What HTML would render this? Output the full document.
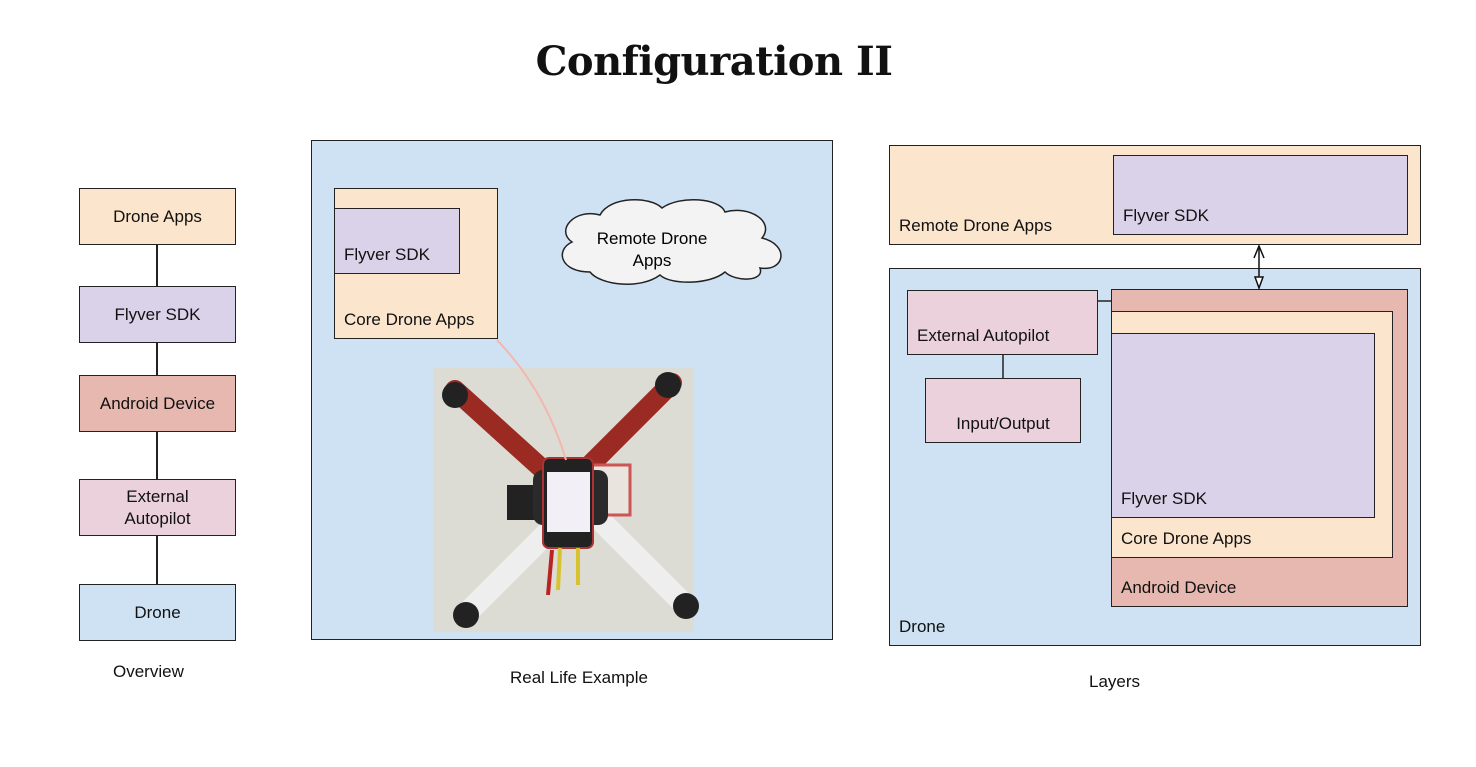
<!DOCTYPE html>
<html><head><style>
body{margin:0;width:1476px;height:767px;background:#fff;position:relative;overflow:hidden;font-family:"Liberation Sans",Arial,sans-serif;color:#111}
.b{position:absolute;border:1.5px solid #222;box-sizing:border-box;font-size:17px}
.c{display:flex;align-items:center;justify-content:center;text-align:center;line-height:22px}
.l{position:absolute;left:9px;bottom:8px;white-space:nowrap}
.pe{background:#fce5cd}.pu{background:#d9d2e9}.rd{background:#e6b8af}.pk{background:#ead1dc}.bl{background:#cfe2f3}
.v{position:absolute;width:1.5px;background:#222}
.t{position:absolute;font-size:17px;white-space:nowrap}
</style></head><body>
<div style="position:absolute;left:0;width:1428px;top:38px;text-align:center;font-family:'DejaVu Serif',serif;font-weight:bold;font-size:40px;letter-spacing:-0.5px">Configuration II</div>

<!-- overview -->
<div class="v" style="left:156px;top:244px;height:140px"></div>
<div class="v" style="left:156px;top:430px;height:160px"></div>
<div class="b c pe" style="left:79px;top:188px;width:157px;height:57px">Drone Apps</div>
<div class="b c pu" style="left:79px;top:286px;width:157px;height:57px">Flyver SDK</div>
<div class="b c rd" style="left:79px;top:375px;width:157px;height:57px">Android Device</div>
<div class="b c pk" style="left:79px;top:479px;width:157px;height:57px">External<br>Autopilot</div>
<div class="b c bl" style="left:79px;top:584px;width:157px;height:57px">Drone</div>
<div class="t" style="left:113px;top:662px">Overview</div>

<!-- real life -->
<div class="b bl" style="left:311px;top:140px;width:522px;height:500px"></div>
<div class="b pe" style="left:334px;top:188px;width:164px;height:151px"><span class="l">Core Drone Apps</span></div>
<div class="b pu" style="left:334px;top:208px;width:126px;height:66px"><span class="l">Flyver SDK</span></div>
<svg style="position:absolute;left:0;top:0" width="1476" height="767">
<path d="M590 272 C560 272 555 250 572 242 C555 230 575 208 600 215 C610 196 650 196 662 208 C680 195 720 198 725 212 C750 205 775 222 762 238 C790 245 785 272 760 268 C765 282 735 282 725 272 C710 285 670 285 660 275 C640 290 600 285 590 272 Z" fill="#f3f3f3" stroke="#222" stroke-width="1.5"/>
<text x="652" y="244" font-size="17" text-anchor="middle" font-family="Liberation Sans">Remote Drone</text>
<text x="652" y="266" font-size="17" text-anchor="middle" font-family="Liberation Sans">Apps</text>
<rect x="433" y="368" width="261" height="264" fill="#dcdcd4"/>
<g stroke-linecap="round">
<line x1="455" y1="390" x2="560" y2="485" stroke="#9a2a22" stroke-width="20"/>
<line x1="672" y1="383" x2="585" y2="470" stroke="#9a2a22" stroke-width="20"/>
<line x1="465" y1="615" x2="555" y2="525" stroke="#eeeeee" stroke-width="22"/>
<line x1="685" y1="605" x2="600" y2="520" stroke="#eeeeee" stroke-width="22"/>
</g>
<circle cx="455" cy="395" r="13" fill="#222"/><circle cx="668" cy="385" r="13" fill="#222"/>
<circle cx="466" cy="615" r="13" fill="#222"/><circle cx="686" cy="606" r="13" fill="#222"/>
<rect x="507" y="485" width="40" height="35" fill="#222"/>
<rect x="590" y="465" width="40" height="50" fill="#e9e4dd" stroke="#c55" stroke-width="3"/>
<rect x="533" y="470" width="75" height="55" rx="10" fill="#2a2a2a"/>
<rect x="543" y="458" width="50" height="90" rx="6" fill="#222" stroke="#a33" stroke-width="2"/>
<rect x="547" y="472" width="43" height="60" fill="#f2f0f6"/>
<path d="M560 548 L558 590 M578 548 L578 585" stroke="#d7c330" stroke-width="4"/>
<path d="M552 550 L548 595" stroke="#b22" stroke-width="4"/>
<path d="M497 340 Q545 390 566 460" stroke="#f4b6ae" stroke-width="2" fill="none"/>
</svg>
<div class="t" style="left:510px;top:668px">Real Life Example</div>

<!-- layers -->
<div class="b pe" style="left:889px;top:145px;width:532px;height:100px"><span class="l">Remote Drone Apps</span></div>
<div class="b pu" style="left:1113px;top:155px;width:295px;height:80px"><span class="l">Flyver SDK</span></div>
<div class="b bl" style="left:889px;top:268px;width:532px;height:378px"><span class="l">Drone</span></div>
<div class="b rd" style="left:1111px;top:289px;width:297px;height:318px"><span class="l">Android Device</span></div>
<div class="b pe" style="left:1111px;top:311px;width:282px;height:247px"><span class="l">Core Drone Apps</span></div>
<div class="b pu" style="left:1111px;top:333px;width:264px;height:185px"><span class="l">Flyver SDK</span></div>
<div class="b pk" style="left:907px;top:290px;width:191px;height:65px"><span class="l">External Autopilot</span></div>
<div class="b c pk" style="left:925px;top:378px;width:156px;height:65px;padding-top:26px">Input/Output</div>
<svg style="position:absolute;left:0;top:0" width="1476" height="767">
<line x1="1003" y1="354" x2="1003" y2="378" stroke="#222" stroke-width="1.5"/>
<line x1="1097" y1="301" x2="1111" y2="301" stroke="#222" stroke-width="1.5"/>
<line x1="1259" y1="248" x2="1259" y2="280" stroke="#111" stroke-width="1.5"/>
<path d="M1254 258 L1259 246 L1264 258" fill="none" stroke="#111" stroke-width="1.5"/>
<path d="M1255 277 L1259 288 L1263 277 Z" fill="#fff" stroke="#111" stroke-width="1.5"/>
</svg>
<div class="t" style="left:1089px;top:672px">Layers</div>
</body></html>
